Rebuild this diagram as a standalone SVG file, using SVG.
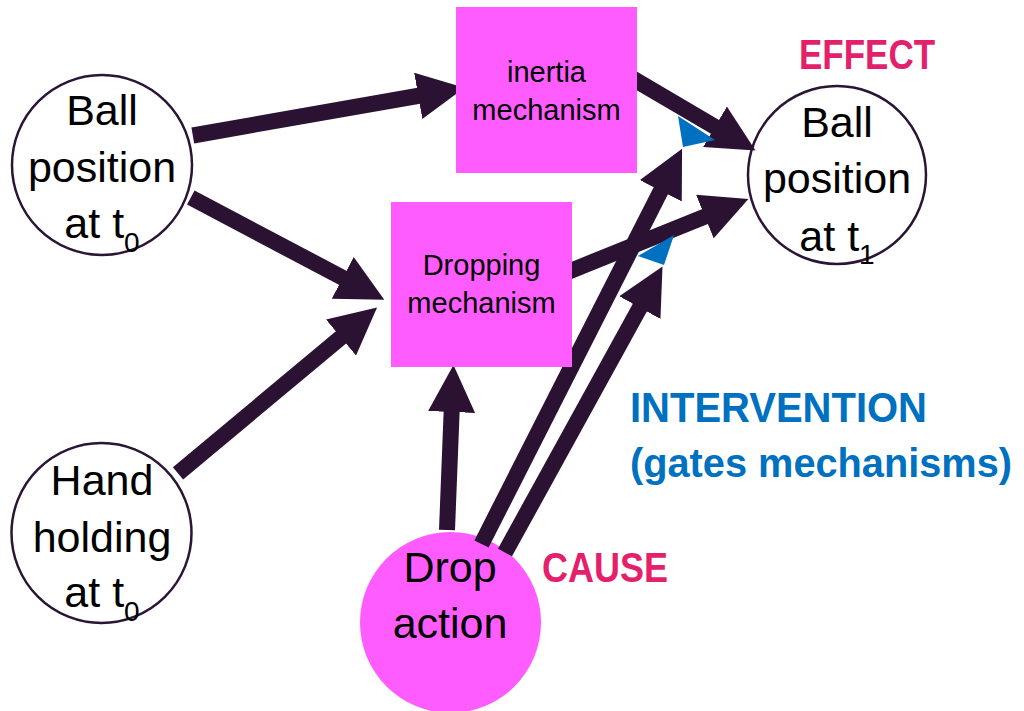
<svg xmlns="http://www.w3.org/2000/svg" width="1024" height="711" viewBox="0 0 1024 711">
  <defs>
    <style>
      .state { fill: #ffffff; stroke: #2a1535; stroke-width: 2.5; }
      .mech { fill: #ff5cff; }
      .node-text { font-family: "Liberation Sans", Arial, sans-serif; font-size: 43px; fill: #000000; text-anchor: middle; }
      .mech-text { font-family: "Liberation Sans", Arial, sans-serif; font-size: 29px; fill: #000000; text-anchor: middle; }
      .sub { font-size: 28px; }
      .link { stroke: #2b1233; stroke-width: 16; fill: none; marker-end: url(#head); }
      .gate { fill: #0070c0; }
      .label { font-family: "Liberation Sans", Arial, sans-serif; font-weight: bold; font-size: 42px; }
      .label.long { font-size: 40px; }
      .pink-label { fill: #e41f6b; }
      .blue-label { fill: #0070c0; }
    </style>
    <marker id="head" markerUnits="userSpaceOnUse" viewBox="0 0 47 47" markerWidth="47" markerHeight="47" refX="2" refY="23.5" orient="auto">
      <path d="M0,0 L47,23.5 L0,47 z" fill="#2b1233"/>
    </marker>
  </defs>

  <!-- state nodes drawn beneath the arrows -->
  <g id="ball-t0">
    <circle class="state" cx="102" cy="165" r="90"/>
    <text class="node-text" x="102" y="125">Ball</text>
    <text class="node-text" x="102" y="182">position</text>
    <text class="node-text" x="102" y="238">at t<tspan class="sub" dy="14">0</tspan></text>
  </g>

  <g id="hand-t0">
    <circle class="state" cx="101.5" cy="533" r="90"/>
    <text class="node-text" x="102" y="495">Hand</text>
    <text class="node-text" x="102" y="552">holding</text>
    <text class="node-text" x="102" y="607">at t<tspan class="sub" dy="14">0</tspan></text>
  </g>

  <g id="ball-t1">
    <circle class="state" cx="837" cy="175" r="89"/>
    <text class="node-text" x="837" y="137">Ball</text>
    <text class="node-text" x="837" y="193">position</text>
    <text class="node-text" x="837" y="251">at t<tspan class="sub" dy="13">1</tspan></text>
  </g>

  <g id="drop-action">
    <circle class="mech" cx="450.5" cy="622.5" r="90.5"/>
    <text class="node-text" x="450" y="582">Drop</text>
    <text class="node-text" x="450" y="638">action</text>
  </g>

  <!-- causal links -->
  <g id="connectors">
    <line class="link" x1="192.8" y1="135.5" x2="420.2" y2="95.5"/>
    <line class="link" x1="190.8" y1="197.5" x2="344.5" y2="278.8"/>
    <line class="link" x1="178" y1="473.3" x2="342.5" y2="336.2"/>
    <line class="link" x1="447" y1="530" x2="451.7" y2="410"/>
    <line class="link" x1="625" y1="74" x2="716.7" y2="127.8"/>
    <line class="link" x1="565" y1="273.1" x2="706.7" y2="215.8"/>
    <line class="link" x1="481.5" y1="544" x2="661.7" y2="189"/>
    <line class="link" x1="505" y1="552.5" x2="640.8" y2="305.8"/>
    <!-- gating tips where the intervention meets each mechanism link -->
    <polygon class="gate" points="678,116 715,140 683,147"/>
    <polygon class="gate" points="638,256 674,235 664,265"/>
  </g>

  <!-- mechanism boxes sit on top of the link ends -->
  <g id="inertia-mechanism">
    <rect class="mech" x="456" y="7" width="181" height="166"/>
    <text class="mech-text" x="546.5" y="82">inertia</text>
    <text class="mech-text" x="546.5" y="120">mechanism</text>
  </g>

  <g id="dropping-mechanism">
    <rect class="mech" x="391" y="202" width="181" height="165"/>
    <text class="mech-text" x="481.5" y="275">Dropping</text>
    <text class="mech-text" x="481.5" y="313">mechanism</text>
  </g>

  <!-- role labels -->
  <g id="labels">
    <text class="label pink-label" x="799" y="69" textLength="136" lengthAdjust="spacingAndGlyphs">EFFECT</text>
    <text class="label pink-label" x="542" y="582" textLength="126" lengthAdjust="spacingAndGlyphs">CAUSE</text>
    <text class="label blue-label" x="630" y="422" textLength="297" lengthAdjust="spacingAndGlyphs">INTERVENTION</text>
    <text class="label long blue-label" x="630" y="477" textLength="382" lengthAdjust="spacingAndGlyphs">(gates mechanisms)</text>
  </g>
</svg>
